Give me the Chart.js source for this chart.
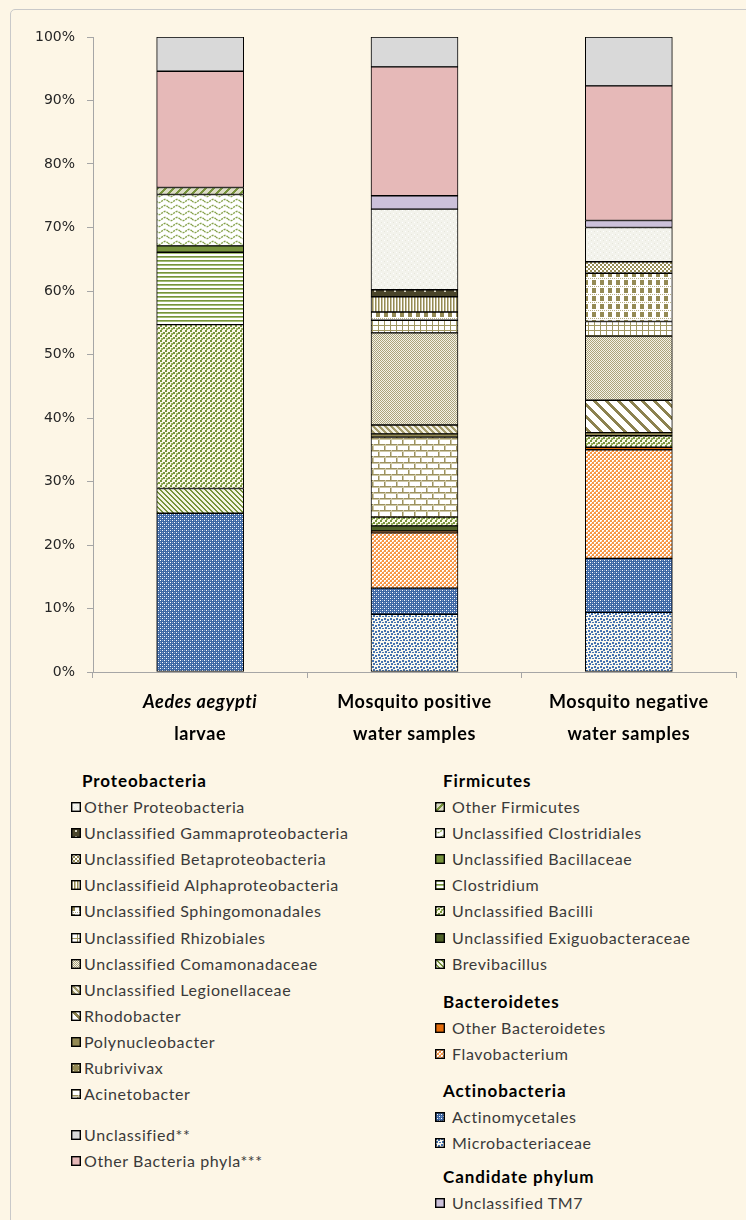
<!DOCTYPE html>
<html>
<head>
<meta charset="utf-8">
<script src="https://cdn.jsdelivr.net/npm/chart.js@4.4.1/dist/chart.umd.min.js"></script>
<style>
html,body{margin:0;padding:0;background:#FDF6E6;}
body{width:746px;height:1220px;position:relative;overflow:hidden;font-family:Lato,"Open Sans",sans-serif;}
#frame{position:absolute;left:10px;top:9px;width:800px;height:1300px;border:1px solid #C9C9C9;border-radius:5px;box-sizing:border-box;}
#chartBox{position:absolute;left:0;top:0;width:746px;height:760px;}
.hd{position:absolute;font-weight:bold;font-size:17px;letter-spacing:0.9px;color:#000;line-height:20px;white-space:nowrap;}
.it{position:absolute;font-size:16px;letter-spacing:0.6px;color:#3A3A3A;line-height:20px;white-space:nowrap;}
.sw{position:absolute;width:10px;height:10px;}
</style>
</head>
<body>
<div id="frame"></div>
<div id="chartBox"><canvas id="c" width="746" height="760"></canvas></div>
<div id="legend"></div>
<script>
// ---------- DATA ----------
const categories = [['Aedes aegypti','larvae'],['Mosquito positive','water samples'],['Mosquito negative','water samples']];
const categoryItalicFirstLine = [true,false,false];
const tickValues = [0,10,20,30,40,50,60,70,80,90,100];

// values in %, order: [Aedes aegypti larvae, Mosquito positive water, Mosquito negative water]
const microbacteriaceae       = [0,    9.1,  9.4];
const actinomycetales         = [25.0, 4.1,  8.5];
const flavobacterium          = [0,    8.7, 17.1];
const otherBacteroidetes      = [0,    0.3,  0.4];
const brevibacillus           = [3.9,  0,    0];
const uncExiguobacteraceae    = [0,    0.8,  0];
const uncBacilli              = [25.8, 1.4,  1.8];
const clostridium             = [11.4, 0,    0];
const uncBacillaceae          = [1.0,  0,    0];
const uncClostridiales        = [8.1,  0,    0];
const otherFirmicutes         = [1.1,  0,    0];
const acinetobacter           = [0,   12.6,  0];
const rubrivivax              = [0,    0,    0];
const polynucleobacter        = [0,    0.5,  0.5];
const rhodobacter             = [0,    0,    5.1];
const uncLegionellaceae       = [0,    1.4,  0];
const uncComamonadaceae       = [0,   14.5, 10.1];
const uncRhizobiales          = [0,    2.0,  2.3];
const uncSphingomonadales     = [0,    1.3,  7.6];
const uncAlphaproteobacteria  = [0,    2.4,  0];
const uncBetaproteobacteria   = [0,    0,    1.8];
const uncGammaproteobacteria  = [0,    1.1,  0];
const otherProteobacteria     = [0,   12.7,  5.4];
const uncTM7                  = [0,    2.1,  1.1];
const otherBacteriaPhyla      = [18.3, 20.3, 21.2];
const unclassified            = [5.4,  4.7,  7.7];

// ---------- PATTERNS (styles) ----------
function tile(w,h,draw){const c=document.createElement('canvas');c.width=w;c.height=h;const g=c.getContext('2d');draw(g,w,h);return c;}
function fill(g,col,w,h){g.fillStyle=col;g.fillRect(0,0,w,h);}
function dots(g,col,pts){g.fillStyle=col;pts.forEach(p=>g.fillRect(p[0],p[1],p[2]||1,p[3]||1));}
function stripes(g,w,h,col,period,width,dir){g.fillStyle=col;for(let y=0;y<h;y++)for(let x=0;x<w;x++){const k=dir>0?((x+y)%period):(((x-y)%period)+period)%period;if(k<width)g.fillRect(x,y,1,1);}}
const tiles = {
  microbac: tile(6,6,(g,w,h)=>{fill(g,'#FBF8EE',w,h);dots(g,'#4573B0',[[0,0,2,2],[3,1,2,2],[1,3,2,2],[4,4,2,1]]);}),
  actino: tile(4,4,(g,w,h)=>{fill(g,'#3D67A4',w,h);dots(g,'#FFFFFF',[[0,0],[2,2]]);dots(g,'#86A0C9',[[2,0],[0,2]]);}),
  flavo: tile(4,4,(g,w,h)=>{fill(g,'#F79646',w,h);dots(g,'#FFFFFF',[[0,0,2,2],[2,2,2,2]]);dots(g,'#FBC79C',[[1,1],[3,3]]);}),
  otherBact: tile(2,2,(g,w,h)=>fill(g,'#E46C0A',w,h)),
  brevi: tile(5,5,(g,w,h)=>{fill(g,'#F4F5E6',w,h);stripes(g,w,h,'#77933C',5,2,-1);}),
  exiguo: tile(2,2,(g,w,h)=>fill(g,'#4F6228',w,h)),
  bacilli: tile(5,5,(g,w,h)=>{fill(g,'#FBF8E8',w,h);dots(g,'#77933C',[[0,0,2,2],[3,2,2,2]]);dots(g,'#97B25E',[[1,3,2,2]]);}),
  clostridium: tile(2,4,(g,w,h)=>{fill(g,'#FFFFFF',w,h);dots(g,'#77933C',[[0,0,2,1]]);dots(g,'#A3BD75',[[0,1,2,1]]);}),
  bacillaceae: tile(2,2,(g,w,h)=>fill(g,'#77933C',w,h)),
  clostridiales: tile(12,6,(g,w,h)=>{fill(g,'#FFFFFF',w,h);g.strokeStyle='#86A24B';g.lineWidth=1.4;g.setLineDash([2,1]);g.beginPath();for(let x=0;x<=12;x+=0.5){const y=3+1.6*Math.sin(2*Math.PI*x/12);x===0?g.moveTo(x,y):g.lineTo(x,y);}g.stroke();}),
  otherFirm: tile(8,8,(g,w,h)=>{fill(g,'#DCDCC6',w,h);stripes(g,w,h,'#77933C',8,3,1);}),
  acineto: tile(12,12,(g,w,h)=>{fill(g,'#FFFFFF',w,h);dots(g,'#9C9260',[[0,0,12,1],[0,6,12,1],[0,0,1,6],[6,6,1,12]]);dots(g,'#CFC9A8',[[0,1,12,1],[0,7,12,1],[1,0,1,6],[7,6,1,6]]);}),
  rubri: tile(5,5,(g,w,h)=>{fill(g,'#948A54',w,h);dots(g,'#D8D3B8',[[2,2]]);}),
  poly: tile(2,2,(g,w,h)=>fill(g,'#948A54',w,h)),
  rhodo: tile(12,12,(g,w,h)=>{fill(g,'#FFFFFF',w,h);stripes(g,w,h,'#8C8250',12,4,-1);}),
  legion: tile(6,6,(g,w,h)=>{fill(g,'#F2F0E2',w,h);stripes(g,w,h,'#A39B6B',6,3,-1);}),
  comamon: tile(2,2,(g,w,h)=>{fill(g,'#F4F2E8',w,h);dots(g,'#ABA37B',[[0,0],[1,1]]);}),
  rhizo: tile(6,5,(g,w,h)=>{fill(g,'#FFFFFF',w,h);dots(g,'#A09762',[[0,0,6,1],[0,0,1,5]]);}),
  sphingo: tile(8,8,(g,w,h)=>{fill(g,'#FFFFFF',w,h);dots(g,'#948A54',[[0,0,4,5]]);dots(g,'#B8B085',[[0,6],[2,6],[4,6],[6,6]]);}),
  alpha: tile(3,1,(g,w,h)=>{fill(g,'#FFFFFF',w,h);dots(g,'#948A54',[[0,0]]);dots(g,'#C9C3A0',[[1,0]]);}),
  beta: tile(4,4,(g,w,h)=>{fill(g,'#FFFFFF',w,h);dots(g,'#948A54',[[0,0,2,2],[2,2,2,2]]);}),
  gamma: tile(10,6,(g,w,h)=>{fill(g,'#4A452A',w,h);dots(g,'#D9D6C4',[[4,2,2,2]]);}),
  otherProteo: tile(6,6,(g,w,h)=>{fill(g,'#F3F3EC',w,h);dots(g,'#FFFFFF',[[0,0],[3,3]]);dots(g,'#E6E6DB',[[3,0],[0,3]]);}),
  tm7: tile(2,2,(g,w,h)=>fill(g,'#CCC1DA',w,h)),
  phyla: tile(2,2,(g,w,h)=>fill(g,'#E6B9B8',w,h)),
  unclass: tile(2,2,(g,w,h)=>fill(g,'#D9D9D9',w,h))
};
const cctx = document.getElementById('c').getContext('2d');
const pattern = k => cctx.createPattern(tiles[k],'repeat');

// series (bottom -> top of stack)
const series = [
  ['Microbacteriaceae', microbacteriaceae, 'microbac'],
  ['Actinomycetales', actinomycetales, 'actino'],
  ['Flavobacterium', flavobacterium, 'flavo'],
  ['Other Bacteroidetes', otherBacteroidetes, 'otherBact'],
  ['Brevibacillus', brevibacillus, 'brevi'],
  ['Unclassified Exiguobacteraceae', uncExiguobacteraceae, 'exiguo'],
  ['Unclassified Bacilli', uncBacilli, 'bacilli'],
  ['Clostridium', clostridium, 'clostridium'],
  ['Unclassified Bacillaceae', uncBacillaceae, 'bacillaceae'],
  ['Unclassified Clostridiales', uncClostridiales, 'clostridiales'],
  ['Other Firmicutes', otherFirmicutes, 'otherFirm'],
  ['Acinetobacter', acinetobacter, 'acineto'],
  ['Rubrivivax', rubrivivax, 'rubri'],
  ['Polynucleobacter', polynucleobacter, 'poly'],
  ['Rhodobacter', rhodobacter, 'rhodo'],
  ['Unclassified Legionellaceae', uncLegionellaceae, 'legion'],
  ['Unclassified Comamonadaceae', uncComamonadaceae, 'comamon'],
  ['Unclassified Rhizobiales', uncRhizobiales, 'rhizo'],
  ['Unclassified Sphingomonadales', uncSphingomonadales, 'sphingo'],
  ['Unclassifieid Alphaproteobacteria', uncAlphaproteobacteria, 'alpha'],
  ['Unclassified Betaproteobacteria', uncBetaproteobacteria, 'beta'],
  ['Unclassified Gammaproteobacteria', uncGammaproteobacteria, 'gamma'],
  ['Other Proteobacteria', otherProteobacteria, 'otherProteo'],
  ['Unclassified TM7', uncTM7, 'tm7'],
  ['Other Bacteria phyla***', otherBacteriaPhyla, 'phyla'],
  ['Unclassified**', unclassified, 'unclass']
];

const xLabelPlugin = {
  id:'xLabels',
  afterDraw(chart){
    const ctx = chart.ctx, xs = chart.scales.x;
    ctx.save();
    ctx.fillStyle = '#000';
    ctx.textAlign = 'center';
    ctx.textBaseline = 'middle';
    ctx.letterSpacing = '0.6px';
    categories.forEach((lines,i)=>{
      const x = xs.getPixelForValue(i);
      lines.forEach((t,j)=>{
        ctx.font = (categoryItalicFirstLine[i] && j===0 ? 'italic ' : '') + 'bold 18px Lato, "Open Sans", sans-serif';
        ctx.fillText(t, x, chart.chartArea.bottom + 30 + j*32);
      });
    });
    ctx.restore();
  }
};

new Chart(document.getElementById('c'), {
  type:'bar',
  data:{
    labels: categories.map(l=>l.join(' ')),
    datasets: series.map(s=>({
      label:s[0], data:s[1], backgroundColor:pattern(s[2]),
      borderColor:'#000', borderWidth:1, borderSkipped:false,
      barThickness:87
    }))
  },
  options:{
    responsive:false, animation:false,
    layout:{padding:{top:37,right:10,left:0,bottom:0}},
    plugins:{legend:{display:false},tooltip:{enabled:false}},
    scales:{
      x:{
        stacked:true,
        grid:{display:true,drawOnChartArea:false,drawTicks:true,tickLength:6,color:'#A6A6A6',offset:true},
        border:{display:true,color:'#A6A6A6'},
        ticks:{display:false},
        afterFit(s){s.height=88;}
      },
      y:{
        stacked:true,min:0,max:100,
        afterBuildTicks(s){s.ticks = tickValues.map(v=>({value:v}));},
        ticks:{callback:v=>v+'%',font:{family:'DejaVu Sans',size:14},color:'#262626',padding:12},
        grid:{display:true,drawOnChartArea:false,drawTicks:true,tickLength:6,color:'#A6A6A6'},
        border:{display:true,color:'#A6A6A6'},
        afterFit(s){s.width=93;}
      }
    }
  },
  plugins:[xLabelPlugin]
});

// ---------- LEGEND (HTML, real text) ----------
const legendGroups = [
  {col:'L', header:'Proteobacteria', items:['Other Proteobacteria','Unclassified Gammaproteobacteria','Unclassified Betaproteobacteria','Unclassifieid Alphaproteobacteria','Unclassified Sphingomonadales','Unclassified Rhizobiales','Unclassified Comamonadaceae','Unclassified Legionellaceae','Rhodobacter','Polynucleobacter','Rubrivivax','Acinetobacter']},
  {col:'L', header:null, items:['Unclassified**','Other Bacteria phyla***']},
  {col:'R', header:'Firmicutes', items:['Other Firmicutes','Unclassified Clostridiales','Unclassified Bacillaceae','Clostridium','Unclassified Bacilli','Unclassified Exiguobacteraceae','Brevibacillus']},
  {col:'R', header:'Bacteroidetes', items:['Other Bacteroidetes','Flavobacterium']},
  {col:'R', header:'Actinobacteria', items:['Actinomycetales','Microbacteriaceae']},
  {col:'R', header:'Candidate phylum', items:['Unclassified TM7']}
];
const groupTops = [781, 1135, 781, 1002, 1091, 1177];
const colX = {L:{hd:82,sw:71,tx:84}, R:{hd:443,sw:435,tx:452}};
const rowStep = 26.1;
const legendEl = document.getElementById('legend');
const keyOf = name => (series.find(s=>s[0]===name)||[])[2];
legendGroups.forEach((grp,gi)=>{
  const cx = colX[grp.col];
  let y = groupTops[gi];
  if(grp.header){
    const h=document.createElement('div');h.className='hd';h.textContent=grp.header;
    h.style.left=cx.hd+'px';h.style.top=(y-10)+'px';legendEl.appendChild(h);
    y += 26;
  }
  grp.items.forEach(name=>{
    const sw=document.createElement('canvas');sw.className='sw';sw.width=10;sw.height=10;
    const g=sw.getContext('2d');g.fillStyle=g.createPattern(tiles[keyOf(name)],'repeat');g.fillRect(0,0,10,10);
    g.strokeStyle='#000';g.lineWidth=1.4;g.strokeRect(0.7,0.7,8.6,8.6);
    sw.style.left=cx.sw+'px';sw.style.top=Math.round(y-5)+'px';legendEl.appendChild(sw);
    const t=document.createElement('div');t.className='it';t.textContent=name;
    t.style.left=cx.tx+'px';t.style.top=(y-10)+'px';legendEl.appendChild(t);
    y += rowStep;
  });
});
</script>
</body>
</html>
